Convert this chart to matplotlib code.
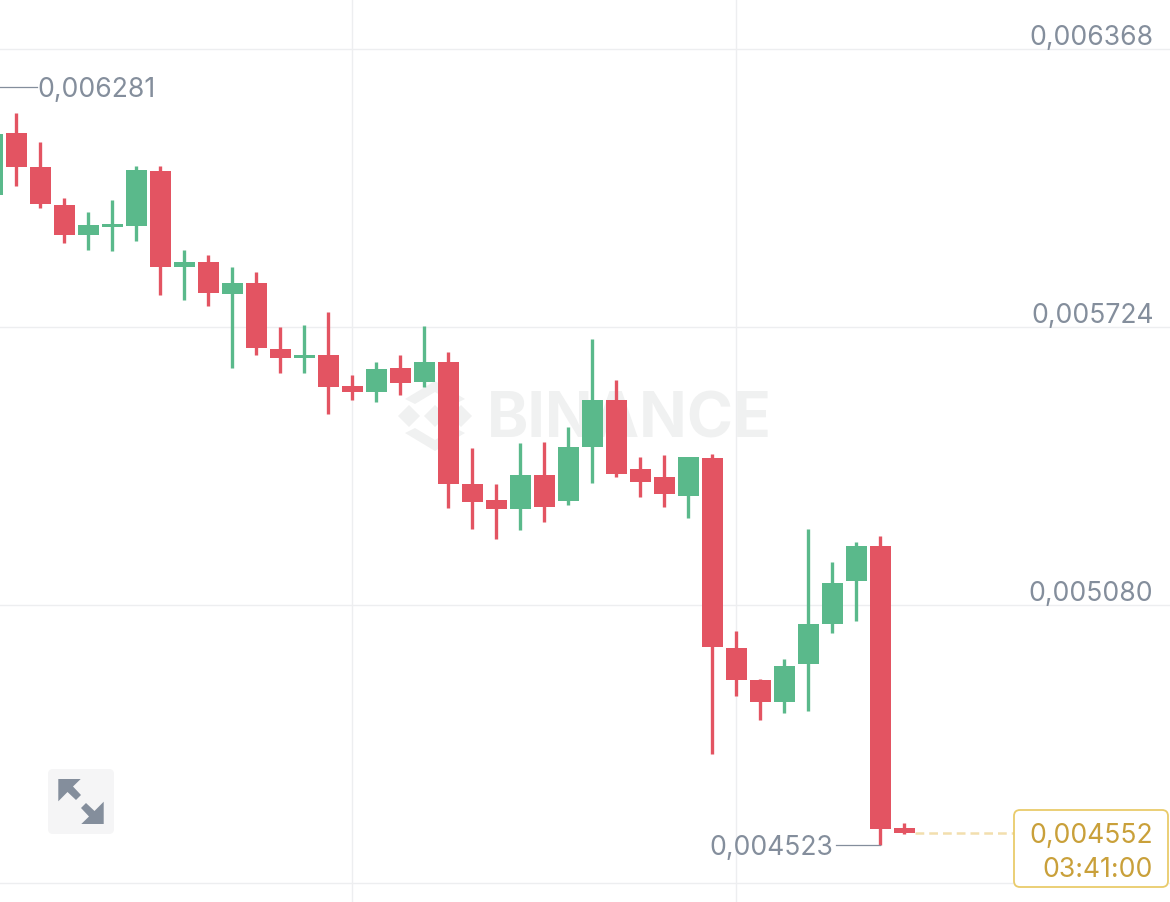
import matplotlib
matplotlib.use("Agg")
import matplotlib.pyplot as plt
from matplotlib.patches import FancyBboxPatch, Polygon
from matplotlib.transforms import Affine2D

# prices in units of 1e-6
highs = [6180, 6219.0, 6153.2, 6022.8, 5989.7, 6018.2, 6097, 6097, 5902.4, 5890.8,
         5863, 5850.7, 5724, 5728.6, 5758.1, 5612.8, 5642.2, 5659.1, 5726.3, 5666.1,
         5443.7, 5359.6, 5456, 5456.9, 5493, 5696.9, 5601.2, 5422.9, 5427.5, 5422.2,
         5429.8, 5019.1, 4908.6, 4954.2, 5256.1, 5180.3, 5226.7, 5240.6, 4575]
lows = [6015, 6051.3, 5999.0, 5918.6, 5901.7, 5899.4, 5923.2, 5798.1, 5785.9, 5772,
        5629.7, 5659.1, 5617.5, 5617.5, 5522.5, 5554.2, 5550.3, 5567.2, 5585.7, 5304.7,
        5256.8, 5233.6, 5253.1, 5272.3, 5311, 5363.3, 5377.2, 5330.2, 5307, 5280.9,
        4735.6, 4869.2, 4814.3, 4830.5, 4834.5, 5015.8, 5042.3, 4523, 4550]
opens = [6029.8, 6172.7, 6094.6, 6006.6, 5937.8, 5955.0, 5958.7, 6085.4, 5862.3, 5875.3,
         5799.7, 5826.6, 5673, 5651.5, 5659.1, 5586.6, 5574.1, 5628.3, 5597.3, 5643.6,
         5360.3, 5322.6, 5302.4, 5381.9, 5320.9, 5446.7, 5555.6, 5395.1, 5375.8, 5333.2,
         5419.8, 4979.7, 4906.3, 4854.6, 4944.1, 5036, 5135.6, 5216.7, 4564.1]
closes = [6171.1, 6095.3, 6008.9, 5937.8, 5960.3, 5961.9, 6088.4, 5862.3, 5875.3, 5802.1,
          5826.6, 5675.4, 5651.5, 5658.4, 5585, 5572.7, 5626.7, 5594.3, 5643.6, 5361,
          5319.3, 5302.4, 5381.2, 5307.7, 5446.7, 5555.6, 5382.8, 5364.9, 5337.1, 5422.2,
          4983.4, 4906.3, 4854.6, 4939.4, 5036, 5131, 5216.7, 4561.8, 4552]
price_ticks = [6368, 5724, 5080, 4436]
tick_labels = ["0,006368", "0,005724", "0,005080", ""]
time_grid = [15, 31]
high_value, high_label = 6281, "0,006281"
low_value, low_label = 4523, "0,004523"
last_value, last_label, countdown = 4552, "0,004552", "03:41:00"

RED, GREEN = "#E35462", "#5AB98B"
GREY, GOLD, GRID = "#848E9C", "#C9A03A", "#EDEEF0"
FS = 19.1
plt.rcParams["font.family"] = ["Inter", "DejaVu Sans"]

fig = plt.figure(figsize=(11.7, 9.03), dpi=100, facecolor="white")
ax = fig.add_axes([0, 0, 1, 1])
ax.set_xlim(0.3325, 49.0825)
ax.set_ylim(4392.0, 6483.8)
for s in ax.spines.values():
    s.set_visible(False)
px = Affine2D().scale(1, -1).translate(0, 903)  # decoration placed in image pixels

xs = list(range(len(opens)))
cols = [GREEN if c >= o else RED for o, c in zip(opens, closes)]
ax.vlines(xs, lows, highs, colors=cols, linewidth=2.4, zorder=4, capstyle="butt")
ax.bar(xs, [max(abs(c - o), 1) for o, c in zip(opens, closes)],
       bottom=[min(o, c) for o, c in zip(opens, closes)],
       width=0.875, color=cols, linewidth=0, zorder=5)

ax.set_yticks(price_ticks)
ax.set_yticklabels(tick_labels)
ax.set_xticks(time_grid)
ax.set_xticklabels([])
ax.yaxis.tick_right()
ax.tick_params(axis="both", length=0)
ax.tick_params(axis="y", direction="in", pad=-11.9, labelsize=FS, labelcolor=GREY)
for t in ax.get_yticklabels():
    t.set_ha("right")
    t.set_va("bottom")
    t.set_transform(t.get_transform() + Affine2D().translate(0, -1))
ax.grid(True, color=GRID, linewidth=1.0, zorder=0)
ax.set_axisbelow(True)

# watermark
WM = "#F0F1F1"
ax.text(487, 438, "BINANCE", transform=px, fontsize=45, fontweight="bold", color=WM,
        ha="left", va="baseline", zorder=1, family="Inter")
for pts in [
    [(398, 417), (409, 406), (420, 417), (409, 428)],
    [(450, 417), (461, 406), (472, 417), (461, 428)],
    [(424, 417), (435, 406), (446, 417), (435, 428)],
    [(435, 382), (465, 400), (455, 405), (435, 393), (415, 405), (405, 400)],
    [(435, 452), (465, 434), (455, 429), (435, 441), (415, 429), (405, 434)],
]:
    ax.add_patch(Polygon(pts, closed=True, transform=px, facecolor=WM, edgecolor="none", zorder=1))

# high / low markers
ax.plot([0, 1.87], [high_value, high_value], color=GREY, lw=0.9, zorder=6)
ax.text(37.5, 97, high_label, transform=px, color=GREY, fontsize=FS, ha="left", va="baseline", zorder=6)
ax.plot([35.15, 37], [low_value, low_value], color=GREY, lw=0.9, zorder=6)
ax.text(833, 855, low_label, transform=px, color=GREY, fontsize=FS, ha="right", va="baseline", zorder=6)

# last price
ax.plot([38.45, 42.75], [last_value, last_value], color="#F2DFAE", lw=1.8,
        linestyle=(0, (3.5, 2)), zorder=3)
ax.add_patch(FancyBboxPatch((1019, 816), 144, 67, boxstyle="round,pad=5,rounding_size=6",
                            transform=px, facecolor="white", edgecolor="#E9CB6B",
                            linewidth=1.3, zorder=6))
ax.text(1153, 843, last_label, transform=px, color=GOLD, fontsize=FS, ha="right", va="baseline", zorder=7)
ax.text(1153, 877, countdown, transform=px, color=GOLD, fontsize=FS, ha="right", va="baseline", zorder=7)

# expand button
ax.add_patch(FancyBboxPatch((52, 774), 58, 57, boxstyle="round,pad=4,rounding_size=5",
                            transform=px, facecolor="#F5F5F6", edgecolor="none", zorder=6))
for pts in [
    [(58.3, 780), (80.7, 780), (73, 787.5), (81, 796), (76, 801), (67.5, 793), (58.3, 802.3)],
    [(103.7, 825), (81.3, 825), (89, 817.5), (81, 809), (86, 804), (94.5, 812), (103.7, 802.7)],
]:
    ax.add_patch(Polygon(pts, closed=True, transform=px, facecolor=GREY, edgecolor="none", zorder=7))

fig.savefig("out.png", dpi=100, facecolor="white")
